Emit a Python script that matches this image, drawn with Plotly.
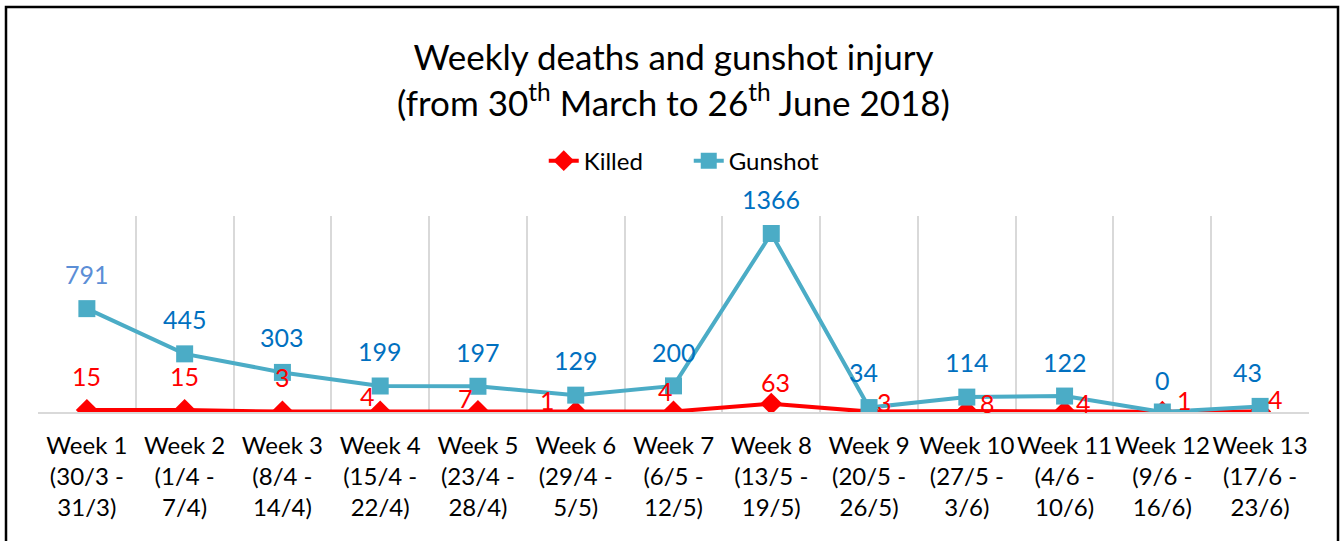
import plotly.graph_objects as go

# ---- data ----
weeks = ["Week 1", "Week 2", "Week 3", "Week 4", "Week 5", "Week 6", "Week 7",
         "Week 8", "Week 9", "Week 10", "Week 11", "Week 12", "Week 13"]
date_ranges = ["(30/3 -<br>31/3)", "(1/4 -<br>7/4)", "(8/4 -<br>14/4)", "(15/4 -<br>22/4)",
               "(23/4 -<br>28/4)", "(29/4 -<br>5/5)", "(6/5 -<br>12/5)", "(13/5 -<br>19/5)",
               "(20/5 -<br>26/5)", "(27/5 -<br>3/6)", "(4/6 -<br>10/6)", "(9/6 -<br>16/6)",
               "(17/6 -<br>23/6)"]
killed = [15, 15, 3, 4, 7, 1, 4, 63, 3, 8, 4, 1, 4]
gunshot = [791, 445, 303, 199, 197, 129, 200, 1366, 34, 114, 122, 0, 43]

tick_labels = [f"{w}<br>{d}" for w, d in zip(weeks, date_ranges)]

# ---- label placement (style) ----
killed_dx = [0, 0, 0, -13, -12, -28, -8, 4, 15, 21, 19, 22, 15]
killed_dy = [34, 34, 35, 15, 13, 12, 20, 22, 10, 8, 8, 12, 12]
gun_dx = [0, 0, 0, 0, 0, 0, 0, 0, -6, 0, 0, 0, -13]
gun_dy = [35, 35, 35, 35, 34, 35, 34, 35, 36, 35, 34, 32, 34]
gun_colors = ["#5B8ED6"] + ["#0070C0"] * 12

FONT = "Lato"
LBL = 25

fig = go.Figure()
fig.add_trace(go.Scatter(
    x=weeks, y=killed, name="Killed", mode="lines+markers",
    line=dict(color="#FF0000", width=4),
    marker=dict(symbol="diamond", size=17, color="#FF0000"),
))
fig.add_trace(go.Scatter(
    x=weeks, y=gunshot, name="Gunshot", mode="lines+markers",
    line=dict(color="#4BACC6", width=4),
    marker=dict(symbol="square", size=17, color="#4BACC6"),
))

annotations = []
for i, w in enumerate(weeks):
    annotations.append(dict(x=w, y=gunshot[i], xref="x", yref="y", text=str(gunshot[i]),
                            showarrow=False, xshift=gun_dx[i], yshift=gun_dy[i],
                            font=dict(family=FONT, size=LBL, color=gun_colors[i])))
    annotations.append(dict(x=w, y=killed[i], xref="x", yref="y", text=str(killed[i]),
                            showarrow=False, xshift=killed_dx[i], yshift=killed_dy[i],
                            font=dict(family=FONT, size=LBL, color="#FF0000")))

fig.update_layout(
    width=1341, height=541,
    margin=dict(l=38, r=32, t=216, b=129, autoexpand=False),
    paper_bgcolor="white", plot_bgcolor="white",
    font=dict(family=FONT, color="black"),
    title=dict(
        text="Weekly deaths and gunshot injury<br>(from 30<sup>th</sup> March to 26<sup>th</sup> June 2018)",
        x=0.5, xanchor="center", xref="paper", y=1 - 70 / 541, yanchor="top", yref="container",
        font=dict(family=FONT, size=35, color="black"),
    ),
    showlegend=True,
    legend=dict(orientation="h", x=0.512, xanchor="center", y=1.28, yanchor="middle",
                entrywidth=100, entrywidthmode="pixels",
                font=dict(family=FONT, size=24, color="black"), bgcolor="rgba(0,0,0,0)"),
    annotations=annotations,
    xaxis=dict(type="category", tickmode="array", tickvals=weeks, ticktext=tick_labels,
               tickson="boundaries", ticks="", range=[-0.5, 12.5], automargin=False,
               ticklabelstandoff=11,
               showgrid=True, gridcolor="#D9D9D9", gridwidth=1.5,
               showline=True, linecolor="#D9D9D9", linewidth=1.5,
               tickfont=dict(family=FONT, size=24, color="black"), tickangle=0),
    yaxis=dict(range=[0, 1500], visible=False, showgrid=False, zeroline=False),
    shapes=[dict(type="rect", xref="paper", yref="paper",
                 x0=(6 - 38) / 1271, x1=(1338 - 38) / 1271, y0=-1.0, y1=(412 - 7) / 196,
                 line=dict(color="black", width=2.5), fillcolor="rgba(0,0,0,0)", layer="above")],
)

fig.write_html("out.html", config={"displayModeBar": False},
               post_script="document.body.style.margin='0px';")
